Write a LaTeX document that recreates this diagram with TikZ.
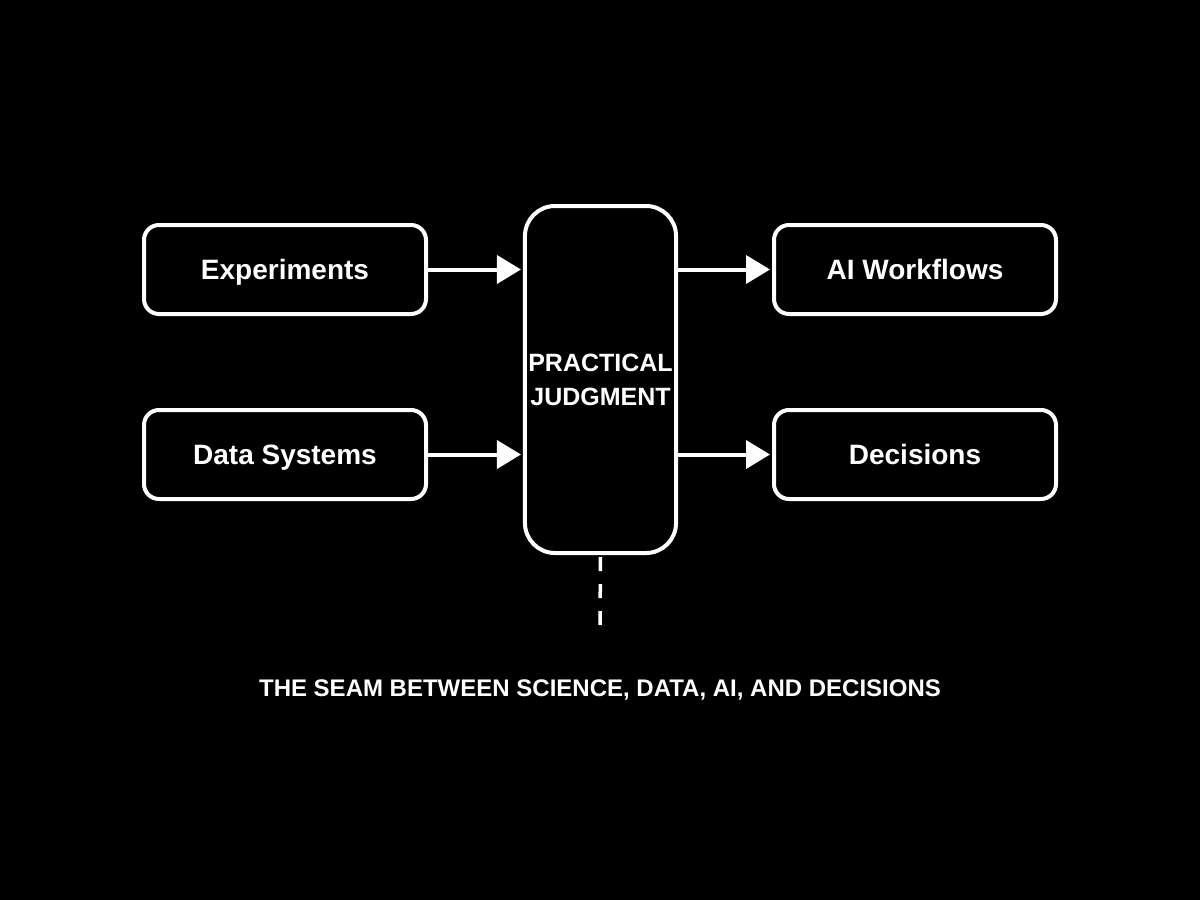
\documentclass[tikz,border=0pt]{standalone}
\usepackage{fontspec}
\setmainfont{Liberation Sans}
\usetikzlibrary{arrows.meta}

\begin{document}
\begin{tikzpicture}
  [x=1pt,y=-1pt,
   every node/.style={draw=white,line width=4pt,rounded corners=15pt,text=white,
     font=\fontsize{28}{32}\selectfont\bfseries,text height=20pt,text depth=0pt,
     minimum width=282pt,minimum height=89pt},
   flow/.style={white,line width=4pt,-{Triangle[length=24pt,width=28pt]}}]
  \fill[black] (0,0) rectangle (1200,900);
  \node (exp) at (285,269.5) {Experiments};
  \node (dat) at (285,454.5) {Data Systems};
  \node (ai)  at (915,269.5) {AI Workflows};
  \node (dec) at (915,454.5) {Decisions};
  \node[minimum width=147pt,minimum height=347pt,rounded corners=30pt,align=center,
    text height=,text depth=,font=\fontsize{25}{34}\selectfont\bfseries] (pj) at (600.5,379.5) {PRACTICAL\\JUDGMENT};
  \foreach \from in {exp,dat}
    \draw[flow,shorten >=2pt] (\from.east) -- (pj.west |- \from.east);
  \foreach \to in {ai,dec}
    \draw[flow,shorten >=2pt] (pj.east |- \to.west) -- (\to.west);
  \coordinate (seamend) at (600,627);
  \draw[white,line width=3.5pt,dash pattern=on 14pt off 13pt,shorten <=2pt] (pj.south) -- (seamend);
  \node[draw=none,minimum width=0pt,minimum height=0pt,text height=,text depth=,
    font=\fontsize{24}{28}\selectfont\bfseries] (title) at (600,690) {THE SEAM BETWEEN SCIENCE, DATA, AI, AND DECISIONS};
\end{tikzpicture}
\end{document}
